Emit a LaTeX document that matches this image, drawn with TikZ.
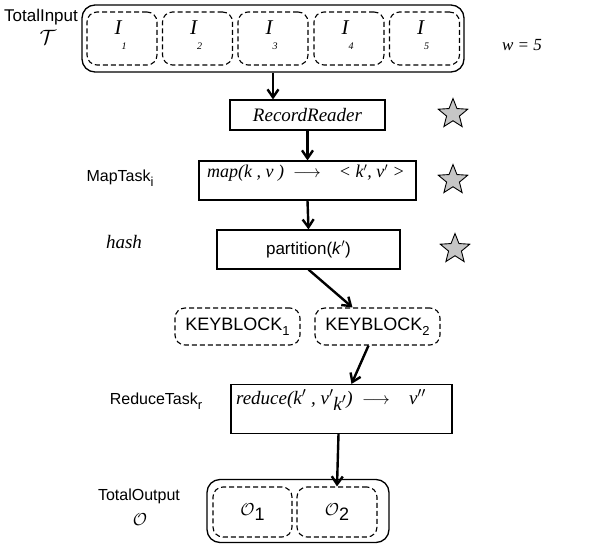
\documentclass[tikz,border=0pt]{standalone}
\usepackage{fontspec}
\setmainfont{Liberation Serif}
\setsansfont{Liberation Sans}
\usetikzlibrary{arrows.meta,shapes.geometric}

\newcommand{\mysub}[1]{\raisebox{-5pt}{\fontsize{13}{13}\selectfont #1}}

\begin{document}
\begin{tikzpicture}[x=1pt,y=-1pt,
      mybox/.style={
         rectangle,
         draw=black,
         line width=1.1pt,
         inner sep=0pt},
      myouter/.style={
         rectangle,
         draw=black,
         rounded corners=13pt,
         line width=1.3pt,
         inner sep=0pt},
      mydash/.style={
         rectangle,
         draw=black,
         rounded corners=10pt,
         line width=1.1pt,
         dash pattern=on 5pt off 3pt,
         inner sep=0pt},
      mystar/.style={
         star,
         star points=5,
         star point ratio=2.3,
         draw=black,
         fill=gray!45,
         line width=0.9pt,
         minimum size=31pt,
         inner sep=0pt},
      mysans/.style={font=\sffamily\fontsize{16}{18}\selectfont},
      myital/.style={font=\itshape\fontsize{19}{21}\selectfont},
      myarrow/.style={-{Straight Barb[length=8pt,width=11pt]}, line width=2.4pt}
      ]
      \useasboundingbox (0,0) rectangle (590,544);
      % input split
      \node[myouter, minimum width=382pt, minimum height=67pt] (input) at (273,38.5) {};
      \foreach \n/\x in {1/122,2/197.5,3/273,4/349,5/424.5} {
         \node[mydash, minimum width=70pt, minimum height=53pt] (i\n) at (\x,38.5) {};
         \node[myital, font=\itshape\fontsize{21}{22}\selectfont] (ti\n) at (\x-4,28) {I};
         \node[font=\itshape\fontsize{10}{11}\selectfont] (si\n) at (\x+2,46) {\n};
      }
      \node[mysans, font=\sffamily\fontsize{17}{19}\selectfont] (inlabel) at (41,17) {TotalInput};
      \node[font=\fontsize{20}{22}\selectfont] (inset) at (48,37) {$\mathcal{T}$};
      \node[myital, font=\itshape\fontsize{17}{19}\selectfont] (wnum) at (522,45) {w = 5};
      % record reader
      \node[mybox, minimum width=155pt, minimum height=30pt, myital] (rr) at (307.5,115) {RecordReader};
      \node[mystar] (star1) at (453,114) {};
      % map
      \node[mybox, minimum width=217pt, minimum height=39pt] (map) at (307.5,180.5) {};
      \node[myital, font=\itshape\fontsize{18}{20}\selectfont] (maptxt) at (306,173) {map(k , v )\enspace$\longrightarrow$\quad < k$'$, v$'$ >};
      \node[mysans] (maplabel) at (120,178) {MapTask\mysub{i}};
      \node[mystar] (star2) at (453,180) {};
      % partition
      \node[mybox, minimum width=183pt, minimum height=39pt, mysans, font=\sffamily\fontsize{17}{19}\selectfont] (part) at (308.5,249.5) {partition(\textit{k}$'$)};
      \node[myital] (hash) at (124,242) {hash};
      \node[mystar] (star3) at (455,249) {};
      % key blocks
      \node[mydash, minimum width=125pt, minimum height=37pt, font=\sffamily\fontsize{18}{20}\selectfont] (kb1) at (237.5,326.5) {KEYBLOCK\mysub{1}};
      \node[mydash, minimum width=125pt, minimum height=37pt, font=\sffamily\fontsize{18}{20}\selectfont] (kb2) at (377.5,326.5) {KEYBLOCK\mysub{2}};
      % reduce
      \node[mybox, minimum width=221pt, minimum height=49pt] (red) at (341.5,409) {};
      \node[myital] (redtxt) at (331,400) {reduce(k$'$ , v$'$\raisebox{-6pt}{k$'$})\enspace$\longrightarrow$\quad v$''$};
      \node[mysans] (redlabel) at (156,401) {ReduceTask\mysub{r}};
      % output
      \node[myouter, minimum width=182pt, minimum height=63pt] (output) at (298,511) {};
      \node[mydash, minimum width=79pt, minimum height=50pt] (o1) at (252.5,512) {};
      \node[mydash, minimum width=80pt, minimum height=50pt] (o2) at (337,512) {};
      \node[font=\fontsize{19}{21}\selectfont] (to1) at (252.5,512) {$\mathcal{O}$\mysub{\sffamily\fontsize{18}{18}\selectfont 1}};
      \node[font=\fontsize{19}{21}\selectfont] (to2) at (337,512) {$\mathcal{O}$\mysub{\sffamily\fontsize{18}{18}\selectfont 2}};
      \node[mysans] (outlabel) at (139,496) {TotalOutput};
      \node[font=\fontsize{19}{21}\selectfont] (outset) at (140,520) {$\mathcal{O}$};
      % connectors
      \draw[myarrow] (input.south) -- (input.south |- rr.north);
      \foreach \i/\j in {rr/map, map/part}
         \draw[myarrow] (\i.south) -- (\j.north);
      \draw[myarrow] (part.south) -- ([xshift=-25pt]kb2.north);
      \draw[myarrow] ([xshift=-9pt]kb2.south) -- ([xshift=10pt]red.north);
      \draw[myarrow] ([xshift=-3pt]red.south) -- (o2.north);
\end{tikzpicture}
\end{document}
